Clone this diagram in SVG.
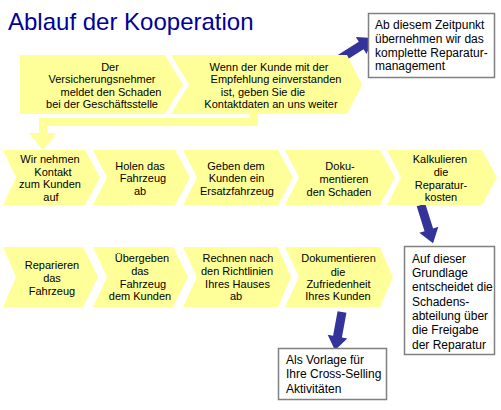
<svg xmlns="http://www.w3.org/2000/svg" width="501" height="410" viewBox="0 0 501 410">
<style>
.chev{fill:#FFFF99;}
.t{font-family:"Liberation Sans",Arial,sans-serif;font-size:11px;fill:#000;text-anchor:middle;}
.bt{font-family:"Liberation Sans",Arial,sans-serif;font-size:12px;fill:#000;}
.box{fill:#fff;stroke:#808080;stroke-width:1.5;}
.blue{fill:#333399;}
.title{font-family:"Liberation Sans",Arial,sans-serif;font-size:24px;fill:#000099;}
</style>
<rect width="501" height="410" fill="#fff"/>
<text class="title" x="8" y="30">Ablauf der Kooperation</text>

<g id="connectors">
  <polyline points="254,114 254,122 43,122 43,134" fill="none" stroke="#FFFF99" stroke-width="8"/>
  <polygon points="29,133 57,133 43,150" fill="#FFFF99"/>
  <polygon class="blue" transform="translate(335,62) rotate(-32.3)" points="0,-4.5 31,-4.5 31,-10 45,0 31,10 31,4.5 0,4.5"/>
  <polygon class="blue" transform="translate(421,205) rotate(72.5)" points="0,-4.5 26,-4.5 26,-10 40,0 26,10 26,4.5 0,4.5"/>
  <polygon class="blue" transform="translate(342,312) rotate(100.4)" points="0,-4.5 25,-4.5 25,-10 39,0 25,10 25,4.5 0,4.5"/>
</g>

<g id="r1c1">
  <polygon class="chev" points="20,55 165,55 183,84.5 165,114 20,114"/>
  <text class="t"><tspan x="110" y="71">Der</tspan><tspan x="102" y="83">Versicherungsnehmer</tspan><tspan x="111" y="95.5">meldet den Schaden</tspan><tspan x="102" y="108">bei der Geschäftsstelle</tspan></text>
</g>
<g id="r1c2">
  <polygon class="chev" points="171,55 347,55 362,84.5 347,114 171,114 189,84.5"/>
  <text class="t"><tspan x="269" y="71">Wenn der Kunde mit der</tspan><tspan x="276" y="83">Empfehlung einverstanden</tspan><tspan x="263" y="95.5">ist, geben Sie die</tspan><tspan x="271" y="108">Kontaktdaten an uns weiter</tspan></text>
</g>

<g id="r2c1">
  <polygon class="chev" points="3,150 85,150 100,177.5 85,205 3,205 16,177.5"/>
  <text class="t"><tspan x="50" y="163">Wir nehmen</tspan><tspan x="53" y="176">Kontakt</tspan><tspan x="50" y="188">zum Kunden</tspan><tspan x="51" y="201">auf</tspan></text>
</g>
<g id="r2c2">
  <polygon class="chev" points="93,150 175,150 190,177.5 175,205 93,205 107,177.5"/>
  <text class="t"><tspan x="140" y="169.5">Holen das</tspan><tspan x="143" y="182">Fahrzeug</tspan><tspan x="140" y="195">ab</tspan></text>
</g>
<g id="r2c3">
  <polygon class="chev" points="183,150 278,150 293,177.5 278,205 183,205 197,177.5"/>
  <text class="t"><tspan x="236" y="169.5">Geben dem</tspan><tspan x="236.5" y="182">Kunden ein</tspan><tspan x="237" y="195">Ersatzfahrzeug</tspan></text>
</g>
<g id="r2c4">
  <polygon class="chev" points="285,150 380,150 395,177.5 380,205 285,205 299,177.5"/>
  <text class="t"><tspan x="340" y="170">Doku-</tspan><tspan x="344" y="183">mentieren</tspan><tspan x="339" y="196">den Schaden</tspan></text>
</g>
<g id="r2c5">
  <polygon class="chev" points="387,150 482,150 497,177.5 482,205 387,205 401,177.5"/>
  <text class="t"><tspan x="440" y="163">Kalkulieren</tspan><tspan x="441" y="176">die</tspan><tspan x="441" y="189">Reparatur-</tspan><tspan x="441" y="201">kosten</tspan></text>
</g>

<g id="r3c1">
  <polygon class="chev" points="3,247 83,247 98,277 83,307 3,307 16,277"/>
  <text class="t"><tspan x="52" y="269">Reparieren</tspan><tspan x="52" y="282">das</tspan><tspan x="52" y="295">Fahrzeug</tspan></text>
</g>
<g id="r3c2">
  <polygon class="chev" points="93,247 173,247 188,277 173,307 93,307 107,277"/>
  <text class="t"><tspan x="142" y="262">Übergeben</tspan><tspan x="140" y="275">das</tspan><tspan x="143" y="287.5">Fahrzeug</tspan><tspan x="140" y="300">dem Kunden</tspan></text>
</g>
<g id="r3c3">
  <polygon class="chev" points="183,247 278,247 291,277 278,307 183,307 197,277"/>
  <text class="t"><tspan x="238" y="262">Rechnen nach</tspan><tspan x="237" y="275">den Richtlinien</tspan><tspan x="237.5" y="287.5">Ihres Hauses</tspan><tspan x="236" y="300">ab</tspan></text>
</g>
<g id="r3c4">
  <polygon class="chev" points="285,247 380,247 393,277 380,307 285,307 299,277"/>
  <text class="t"><tspan x="338.5" y="262">Dokumentieren</tspan><tspan x="338" y="275.5">die</tspan><tspan x="338.5" y="287.5">Zufriedenheit</tspan><tspan x="338" y="300">Ihres Kunden</tspan></text>
</g>

<g id="box1">
  <rect class="box" x="368.5" y="13.5" width="126" height="64"/>
  <text class="bt"><tspan x="375" y="28.5">Ab diesem Zeitpunkt</tspan><tspan x="375" y="42.5">übernehmen wir das</tspan><tspan x="375" y="56.5">komplette Reparatur-</tspan><tspan x="375" y="70">management</tspan></text>
</g>
<g id="box2">
  <rect class="box" x="404.5" y="246.5" width="90" height="108"/>
  <text class="bt"><tspan x="412" y="262.5">Auf dieser</tspan><tspan x="412" y="276.5">Grundlage</tspan><tspan x="412" y="291">entscheidet die</tspan><tspan x="412" y="305.5">Schadens-</tspan><tspan x="412" y="320">abteilung über</tspan><tspan x="412" y="334">die Freigabe</tspan><tspan x="412" y="348.5">der Reparatur</tspan></text>
</g>
<g id="box3">
  <rect class="box" x="278.5" y="348.5" width="108" height="51"/>
  <text class="bt"><tspan x="286" y="363.5">Als Vorlage für</tspan><tspan x="286" y="378">Ihre Cross-Selling</tspan><tspan x="286" y="392.5">Aktivitäten</tspan></text>
</g>
</svg>
